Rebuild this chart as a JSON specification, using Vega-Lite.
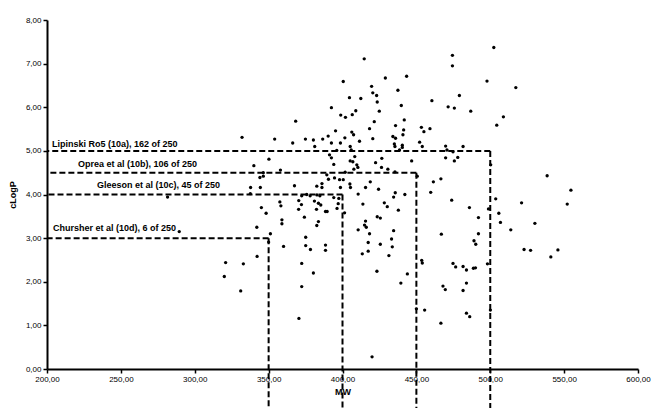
{
  "$schema": "https://vega.github.io/schema/vega-lite/v6.json",
  "width": 591,
  "height": 349,
  "autosize": {"type": "none"},
  "padding": {"left": 47, "top": 20, "right": 16, "bottom": 39},
  "config": {"view": {"stroke": null}, "font": "Liberation Sans"},
  "datasets": {
    "pts": [
      {"mw":332.0,"clogp":5.31},{"mw":354.1,"clogp":5.27},{"mw":366.3,"clogp":5.18},{"mw":368.3,"clogp":5.68},{"mw":374.9,"clogp":5.27},{"mw":380.3,"clogp":5.25},{"mw":386.6,"clogp":5.27},{"mw":390.3,"clogp":5.34},{"mw":392.5,"clogp":5.18},{"mw":392.5,"clogp":5.99},{"mw":395.3,"clogp":5.46},{"mw":381.2,"clogp":5.10},{"mw":350.2,"clogp":4.81},{"mw":340.0,"clogp":4.66},{"mw":391.2,"clogp":4.91},{"mw":392.5,"clogp":4.84},{"mw":394.1,"clogp":4.69},{"mw":346.4,"clogp":4.50},{"mw":346.4,"clogp":4.42},{"mw":344.1,"clogp":4.39},{"mw":358.0,"clogp":4.56},{"mw":389.4,"clogp":4.45},{"mw":390.5,"clogp":4.35},{"mw":394.6,"clogp":4.38},{"mw":398.0,"clogp":4.34},{"mw":400.5,"clogp":4.34},{"mw":337.8,"clogp":4.16},{"mw":344.4,"clogp":4.16},{"mw":367.5,"clogp":4.20},{"mw":382.6,"clogp":4.19},{"mw":386.1,"clogp":4.25},{"mw":386.1,"clogp":4.16},{"mw":337.6,"clogp":4.02},{"mw":375.8,"clogp":4.00},{"mw":378.1,"clogp":3.97},{"mw":394.1,"clogp":3.93},{"mw":397.5,"clogp":3.91},{"mw":382.7,"clogp":3.99},{"mw":384.7,"clogp":3.97},{"mw":372.4,"clogp":3.97},{"mw":281.6,"clogp":3.94},{"mw":370.4,"clogp":3.86},{"mw":381.0,"clogp":3.85},{"mw":372.2,"clogp":3.77},{"mw":383.7,"clogp":3.80},{"mw":385.3,"clogp":3.76},{"mw":345.1,"clogp":3.70},{"mw":357.6,"clogp":3.83},{"mw":358.3,"clogp":3.74},{"mw":370.3,"clogp":3.66},{"mw":382.4,"clogp":3.66},{"mw":388.5,"clogp":3.61},{"mw":389.6,"clogp":3.61},{"mw":397.1,"clogp":3.79},{"mw":396.3,"clogp":3.68},{"mw":348.3,"clogp":3.57},{"mw":374.2,"clogp":3.48},{"mw":359.0,"clogp":3.42},{"mw":359.0,"clogp":3.33},{"mw":383.7,"clogp":3.38},{"mw":382.6,"clogp":3.29},{"mw":342.0,"clogp":3.25},{"mw":351.2,"clogp":3.10},{"mw":289.5,"clogp":3.15},{"mw":375.1,"clogp":3.02},{"mw":350.0,"clogp":2.91},{"mw":360.1,"clogp":2.81},{"mw":375.1,"clogp":2.83},{"mw":378.3,"clogp":2.74},{"mw":388.5,"clogp":2.84},{"mw":388.5,"clogp":2.72},{"mw":342.2,"clogp":2.58},{"mw":320.9,"clogp":2.44},{"mw":332.9,"clogp":2.41},{"mw":320.0,"clogp":2.12},{"mw":331.1,"clogp":1.79},{"mw":372.4,"clogp":2.42},{"mw":380.3,"clogp":2.20},{"mw":372.4,"clogp":1.89},{"mw":370.5,"clogp":1.16},
      {"mw":414.7,"clogp":7.11},{"mw":400.5,"clogp":6.59},{"mw":443.4,"clogp":6.71},{"mw":429.0,"clogp":6.67},{"mw":419.7,"clogp":6.48},{"mw":437.5,"clogp":6.39},{"mw":420.5,"clogp":6.33},{"mw":423.1,"clogp":6.27},{"mw":404.7,"clogp":6.22},{"mw":412.4,"clogp":6.20},{"mw":423.5,"clogp":6.12},{"mw":439.8,"clogp":6.04},{"mw":460.5,"clogp":6.15},{"mw":409.0,"clogp":5.92},{"mw":424.9,"clogp":5.91},{"mw":398.8,"clogp":5.82},{"mw":402.0,"clogp":5.77},{"mw":406.6,"clogp":5.83},{"mw":441.8,"clogp":5.71},{"mw":421.5,"clogp":5.67},{"mw":418.3,"clogp":5.51},{"mw":435.9,"clogp":5.58},{"mw":441.4,"clogp":5.48},{"mw":453.4,"clogp":5.54},{"mw":459.2,"clogp":5.51},{"mw":455.1,"clogp":5.44},{"mw":406.3,"clogp":5.43},{"mw":407.5,"clogp":5.37},{"mw":401.6,"clogp":5.30},{"mw":420.5,"clogp":5.28},{"mw":434.1,"clogp":5.33},{"mw":435.9,"clogp":5.29},{"mw":440.9,"clogp":5.37},{"mw":398.6,"clogp":5.18},{"mw":411.5,"clogp":5.22},{"mw":452.2,"clogp":5.20},{"mw":435.1,"clogp":5.16},{"mw":435.5,"clogp":5.10},{"mw":440.5,"clogp":5.13},{"mw":440.5,"clogp":5.08},{"mw":405.2,"clogp":5.10},{"mw":454.0,"clogp":5.10},{"mw":396.1,"clogp":5.01},{"mw":405.9,"clogp":5.02},{"mw":438.6,"clogp":5.02},{"mw":405.2,"clogp":4.77},{"mw":407.0,"clogp":4.75},{"mw":408.3,"clogp":4.87},{"mw":426.6,"clogp":4.83},{"mw":422.4,"clogp":4.73},{"mw":446.8,"clogp":4.77},{"mw":409.7,"clogp":4.68},{"mw":410.4,"clogp":4.62},{"mw":407.7,"clogp":4.58},{"mw":426.4,"clogp":4.62},{"mw":430.7,"clogp":4.58},{"mw":435.5,"clogp":4.52},{"mw":401.8,"clogp":4.51},{"mw":418.8,"clogp":4.29},{"mw":415.6,"clogp":4.16},{"mw":398.6,"clogp":4.16},{"mw":405.0,"clogp":4.24},{"mw":405.4,"clogp":4.16},{"mw":424.4,"clogp":4.12},{"mw":410.6,"clogp":4.01},{"mw":434.6,"clogp":3.94},{"mw":435.7,"clogp":4.04},{"mw":442.2,"clogp":4.00},{"mw":459.7,"clogp":4.05},{"mw":461.5,"clogp":4.29},{"mw":466.6,"clogp":4.36},{"mw":450.6,"clogp":4.42},{"mw":413.8,"clogp":3.78},{"mw":428.3,"clogp":3.81},{"mw":430.3,"clogp":3.72},{"mw":437.8,"clogp":3.64},{"mw":423.5,"clogp":3.49},{"mw":425.6,"clogp":3.46},{"mw":415.6,"clogp":3.39},{"mw":414.9,"clogp":3.30},{"mw":416.1,"clogp":3.25},{"mw":410.6,"clogp":3.19},{"mw":434.6,"clogp":3.17},{"mw":418.3,"clogp":3.10},{"mw":433.2,"clogp":2.98},{"mw":417.4,"clogp":2.90},{"mw":425.6,"clogp":2.86},{"mw":433.7,"clogp":2.80},{"mw":417.4,"clogp":2.70},{"mw":413.4,"clogp":2.64},{"mw":431.4,"clogp":2.60},{"mw":401.4,"clogp":3.58},{"mw":423.3,"clogp":2.24},{"mw":443.9,"clogp":2.18},{"mw":439.5,"clogp":1.97},{"mw":420.0,"clogp":0.28},
      {"mw":502.4,"clogp":7.37},{"mw":474.4,"clogp":7.19},{"mw":474.4,"clogp":6.95},{"mw":497.8,"clogp":6.60},{"mw":517.3,"clogp":6.45},{"mw":479.1,"clogp":6.27},{"mw":471.5,"clogp":6.01},{"mw":475.7,"clogp":5.98},{"mw":486.8,"clogp":5.91},{"mw":508.9,"clogp":5.78},{"mw":504.4,"clogp":5.59},{"mw":469.8,"clogp":5.11},{"mw":481.6,"clogp":5.10},{"mw":470.7,"clogp":5.02},{"mw":469.8,"clogp":4.84},{"mw":475.7,"clogp":4.77},{"mw":478.0,"clogp":4.85},{"mw":474.8,"clogp":4.98},{"mw":538.5,"clogp":4.43},{"mw":500.3,"clogp":4.68},{"mw":473.9,"clogp":3.87},{"mw":485.9,"clogp":3.70},{"mw":503.7,"clogp":3.90},{"mw":521.2,"clogp":3.81},{"mw":498.8,"clogp":3.67},{"mw":492.0,"clogp":3.47},{"mw":505.8,"clogp":3.57},{"mw":506.9,"clogp":3.36},{"mw":530.2,"clogp":3.34},{"mw":513.9,"clogp":3.19},{"mw":466.9,"clogp":3.09},{"mw":492.0,"clogp":3.10},{"mw":489.0,"clogp":2.94},{"mw":490.2,"clogp":2.86},{"mw":522.9,"clogp":2.74},{"mw":527.3,"clogp":2.72},{"mw":545.8,"clogp":2.73},{"mw":552.1,"clogp":3.78},{"mw":554.6,"clogp":4.10},{"mw":541.0,"clogp":2.57},{"mw":453.6,"clogp":2.49},{"mw":454.0,"clogp":2.43},{"mw":474.8,"clogp":2.42},{"mw":476.6,"clogp":2.34},{"mw":481.6,"clogp":2.35},{"mw":483.9,"clogp":2.27},{"mw":488.6,"clogp":2.31},{"mw":490.0,"clogp":2.32},{"mw":498.1,"clogp":2.41},{"mw":468.0,"clogp":1.90},{"mw":469.6,"clogp":1.82},{"mw":481.6,"clogp":1.80},{"mw":483.9,"clogp":1.97},{"mw":450.0,"clogp":1.38},{"mw":455.6,"clogp":1.35},{"mw":500.1,"clogp":1.35},{"mw":483.9,"clogp":1.28},{"mw":486.1,"clogp":1.20},{"mw":466.6,"clogp":1.05}
    ],
    "rules": [
      {"mw":500,"clogp":5,"label":"Lipinski Ro5 (10a), 162 of 250"},
      {"mw":450,"clogp":4.5,"label":"Oprea et al (10b), 106 of 250"},
      {"mw":400,"clogp":4,"label":"Gleeson et al (10c), 45 of 250"},
      {"mw":350,"clogp":3,"label":"Chursher et al (10d), 6 of 250"}
    ]
  },
  "layer": [
    {
      "data": {"name": "pts"},
      "mark": {"type": "circle", "size": 11, "color": "black", "opacity": 1},
      "encoding": {
        "x": {"field": "mw", "type": "quantitative",
          "scale": {"domain": [200, 600], "nice": false, "zero": false},
          "axis": {"title": "MW", "values": [200,250,300,350,400,450,500,550,600],
            "labelExpr": "replace(format(datum.value, '.2f'), '.', ',')",
            "grid": false, "domainColor": "black", "domainWidth": 2,
            "tickColor": "black", "tickSize": 4, "tickWidth": 1.5,
            "labelFontSize": 8, "labelColor": "black", "labelPadding": 2,
            "labelFlush": false, "labelOverlap": false, "labelBound": false,
            "titleFontSize": 9, "titleFontWeight": "bold", "titleColor": "black", "titlePadding": 4}},
        "y": {"field": "clogp", "type": "quantitative",
          "scale": {"domain": [0, 8], "nice": false, "zero": false},
          "axis": {"title": "cLogP", "values": [0,1,2,3,4,5,6,7,8],
            "labelExpr": "replace(format(datum.value, '.2f'), '.', ',')",
            "grid": false, "domainColor": "black", "domainWidth": 2,
            "tickColor": "black", "tickSize": 4, "tickWidth": 1.5,
            "labelFontSize": 8, "labelColor": "black", "labelPadding": 2,
            "labelFlush": false, "labelOverlap": false, "labelBound": false,
            "titleFontSize": 9, "titleFontWeight": "bold", "titleColor": "black", "titlePadding": 8}}
      }
    },
    {
      "data": {"name": "rules"},
      "mark": {"type": "rule", "color": "black", "strokeWidth": 2, "strokeDash": [6, 3]},
      "encoding": {
        "x": {"field": "mw", "type": "quantitative"},
        "x2": {"datum": 200},
        "y": {"field": "clogp", "type": "quantitative"}
      }
    },
    {
      "data": {"name": "rules"},
      "mark": {"type": "rule", "color": "black", "strokeWidth": 2, "strokeDash": [6, 3], "clip": false},
      "encoding": {
        "x": {"field": "mw", "type": "quantitative"},
        "y": {"field": "clogp", "type": "quantitative"},
        "y2": {"datum": -1}
      }
    },
    {
      "data": {"name": "rules"},
      "transform": [{"filter": "datum.mw == 500"}],
      "mark": {"type": "text", "align": "left", "baseline": "alphabetic", "fontSize": 9, "fontWeight": "bold", "color": "black", "dx": 5, "dy": -4},
      "encoding": {"x": {"datum": 200, "type": "quantitative"}, "y": {"field": "clogp", "type": "quantitative"}, "text": {"field": "label"}}
    },
    {
      "data": {"name": "rules"},
      "transform": [{"filter": "datum.mw == 450"}],
      "mark": {"type": "text", "align": "left", "baseline": "alphabetic", "fontSize": 9, "fontWeight": "bold", "color": "black", "dx": 31, "dy": -6},
      "encoding": {"x": {"datum": 200, "type": "quantitative"}, "y": {"field": "clogp", "type": "quantitative"}, "text": {"field": "label"}}
    },
    {
      "data": {"name": "rules"},
      "transform": [{"filter": "datum.mw == 400"}],
      "mark": {"type": "text", "align": "left", "baseline": "alphabetic", "fontSize": 9, "fontWeight": "bold", "color": "black", "dx": 50, "dy": -7},
      "encoding": {"x": {"datum": 200, "type": "quantitative"}, "y": {"field": "clogp", "type": "quantitative"}, "text": {"field": "label"}}
    },
    {
      "data": {"name": "rules"},
      "transform": [{"filter": "datum.mw == 350"}],
      "mark": {"type": "text", "align": "left", "baseline": "alphabetic", "fontSize": 9, "fontWeight": "bold", "color": "black", "dx": 6, "dy": -7},
      "encoding": {"x": {"datum": 200, "type": "quantitative"}, "y": {"field": "clogp", "type": "quantitative"}, "text": {"field": "label"}}
    }
  ]
}
